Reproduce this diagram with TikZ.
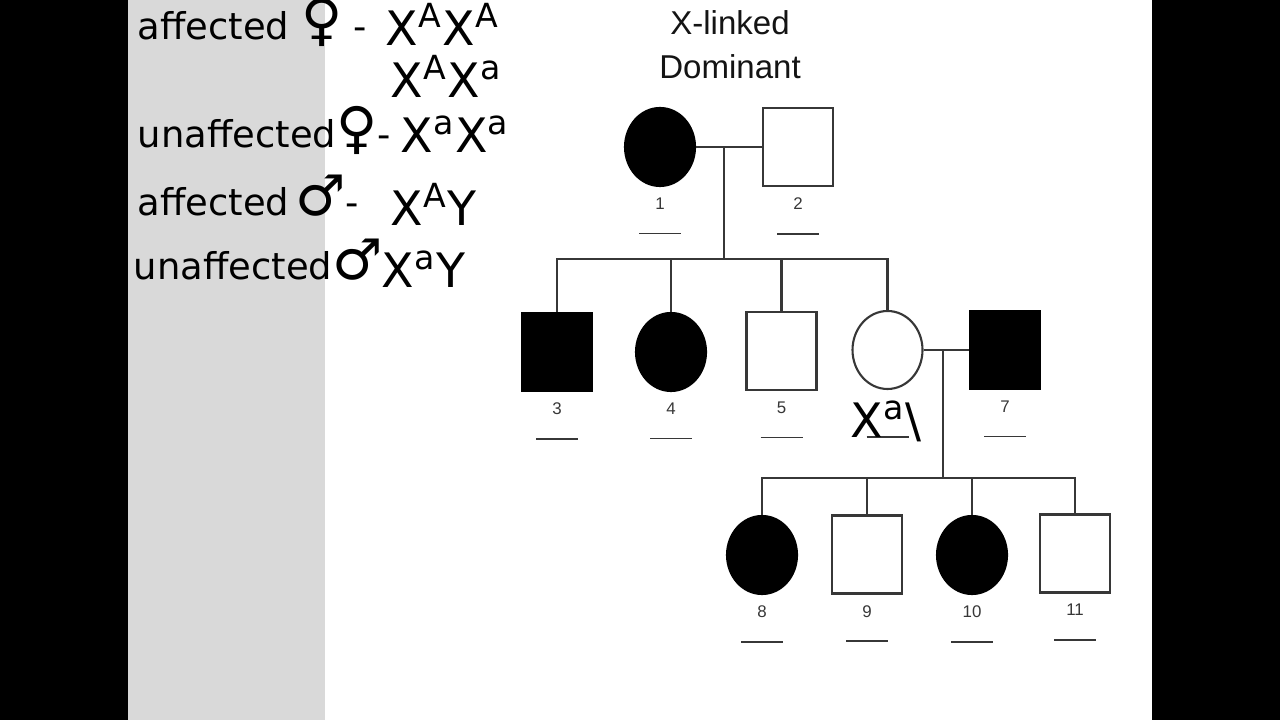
\documentclass[tikz,border=0pt]{standalone}
\usepackage{fontspec}
\setmainfont{Liberation Sans}
\newfontfamily\handfont{DejaVu Sans}
\usetikzlibrary{shapes.geometric, positioning, calc}
\definecolor{pedline}{RGB}{55, 55, 55}
\definecolor{panelgray}{RGB}{217, 217, 217}

\tikzset{
  person/.style={draw=pedline, line width=0.6pt, minimum width=7mm, minimum height=7.8mm, inner sep=0pt},
  male/.style={person, rectangle},
  female/.style={person, ellipse},
  affected/.style={fill=black, draw=black},
  kin/.style={draw=pedline, line width=0.6pt},
  idlab/.style={font=\fontsize{4.8}{6}\selectfont, text=pedline, align=center, inner sep=0pt},
  hand/.style={font=\handfont\fontsize{10.5}{13}\selectfont, anchor=base west, inner sep=0pt},
  geno/.style={hand, font=\handfont\fontsize{13.5}{16}\selectfont}
}
\newcommand{\sexsym}[1]{{\fontsize{16}{16}\selectfont #1}}
\newcommand{\blankline}{\\[0.4mm]\textcolor{pedline}{\rule{4.2mm}{0.5pt}}}

\begin{document}
\begin{tikzpicture}
  \useasboundingbox (0,0) rectangle (12.8,-7.2);
  \fill[black] (0,0) rectangle (12.8,-7.2);
  \fill[white] (1.28,0) rectangle (11.52,-7.2);
  \fill[panelgray] (1.28,0) rectangle (3.25,-7.2);

  % handwritten key
  \node[hand] (w1) at (1.37,-0.40) {affected \sexsym{♀} -};
  \node[geno] (g1) at (3.85,-0.46) {X\textsuperscript{A}X\textsuperscript{A}};
  \node[geno] (g2) at (3.90,-0.98) {X\textsuperscript{A}X\textsuperscript{a}};
  \node[hand] (w3) at (1.37,-1.48) {unaffected\sexsym{♀}-};
  \node[geno] (g3) at (4.00,-1.53) {X\textsuperscript{a}X\textsuperscript{a}};
  \node[hand] (w4) at (1.37,-2.16) {affected\,\sexsym{♂}-};
  \node[geno] (g4) at (3.90,-2.26) {X\textsuperscript{A}Y};
  \node[hand] (w5) at (1.33,-2.80) {unaffected\sexsym{♂}};
  \node[geno] (g5) at (3.81,-2.88) {X\textsuperscript{a}Y};

  % title
  \node[text=black!92, align=center, font=\fontsize{9.4}{12.5}\selectfont] (title) at (7.30,-0.45) {X-linked\\Dominant};

  % generation I
  \node[female, affected] (p1) at (6.60,-1.47) {};
  \node[male] (p2) at (7.98,-1.47) {};
  % generation II
  \node[male, affected] (p3) at (5.57,-3.52) {};
  \node[female, affected] (p4) at (6.71,-3.52) {};
  \node[male] (p5) at (7.815,-3.51) {};
  \node[female] (p6) at (8.875,-3.50) {};
  \node[male, affected] (p7) at (10.05,-3.50) {};
  % generation III
  \node[female, affected] (p8) at (7.62,-5.55) {};
  \node[male] (p9) at (8.67,-5.545) {};
  \node[female, affected] (p10) at (9.72,-5.55) {};
  \node[male] (p11) at (10.75,-5.535) {};

  % numbers and blanks
  \foreach \i in {1,2,3,4,5,7,8,9,10,11}
    \node[idlab, below=1mm of p\i] (l\i) {\i\blankline};
  \node[idlab, below=1mm of p6] (l6) {\phantom{6}\blankline};

  % matings and sibships
  \coordinate (m12) at ($(p1.east)!0.42!(p2.west)$);
  \coordinate (s1) at ($(m12)+(0,-1.12)$);
  \draw[kin] (p1.east) -- (p2.west);
  \draw[kin] (m12) -- (s1);
  \draw[kin] (p3.north) |- (s1) -| (p6.north);
  \draw[kin] (p4.north) -- (p4.north |- s1);
  \draw[kin] (p5.north) -- (p5.north |- s1);

  \coordinate (m67) at ($(p6.east)!0.42!(p7.west)$);
  \coordinate (s2) at ($(m67)+(0,-1.28)$);
  \draw[kin] (p6.east) -- (p7.west);
  \draw[kin] (m67) -- (s2);
  \draw[kin] (p8.north) |- (s2) -| (p11.north);
  \draw[kin] (p9.north) -- (p9.north |- s2);
  \draw[kin] (p10.north) -- (p10.north |- s2);

  % handwritten note on 6
  \node[geno] (note6) at (8.50,-4.38) {X\textsuperscript{a}\textbackslash};
\end{tikzpicture}
\end{document}
